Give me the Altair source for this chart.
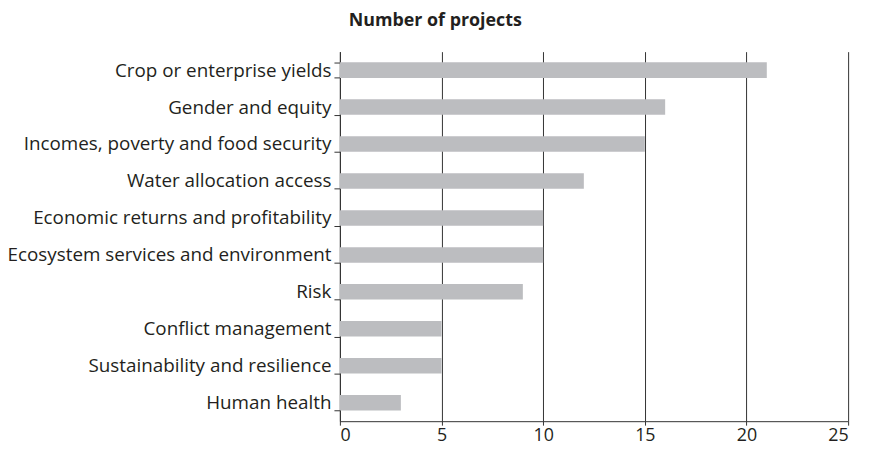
import altair as alt
import pandas as pd

categories = [
    "Crop or enterprise yields",
    "Gender and equity",
    "Incomes, poverty and food security",
    "Water allocation access",
    "Economic returns and profitability",
    "Ecosystem services and environment",
    "Risk",
    "Conflict management",
    "Sustainability and resilience",
    "Human health",
]
values = [21, 16, 15, 12, 10, 10, 9, 5, 5, 3]
x_ticks = [0, 5, 10, 15, 20, 25]

df = pd.DataFrame({"category": categories, "projects": values})

FONT = "Open Sans"
TXT = "#231f20"

chart = (
    alt.Chart(df)
    .mark_bar(color="#bcbdc0")
    .encode(
        x=alt.X(
            "projects:Q",
            scale=alt.Scale(domain=[0, 25], nice=False),
            axis=alt.Axis(
                values=x_ticks,
                title=None,
                grid=True,
                gridColor="#333333",
                gridWidth=1,
                domainColor="#333333",
                tickColor="#333333",
                tickSize=4,
                labelFont=FONT,
                labelFontSize=18,
                labelColor=TXT,
                labelPadding=2,
            ),
        ),
        y=alt.Y(
            "category:N",
            sort=categories,
            scale=alt.Scale(paddingInner=0.58, paddingOuter=0.29),
            axis=alt.Axis(
                title=None,
                tickBand="extent",
                domainColor="#333333",
                tickColor="#333333",
                tickSize=6,
                labelFont=FONT,
                labelFontSize=19,
                labelColor=TXT,
                labelPadding=3,
                labelLimit=400,
            ),
        ),
    )
    .properties(
        width=513,
        height=373,
        title=alt.TitleParams(
            "Number of projects",
            anchor="start",
            frame="group",
            font=FONT,
            fontSize=18,
            fontWeight="bold",
            color=TXT,
            dx=9,
            offset=13,
        ),
        padding={"left": 335, "top": 42, "right": 13, "bottom": 24},
        autosize=alt.AutoSizeParams(type="none"),
    )
    .configure_view(stroke=None)
    .configure_axisX(gridOpacity=1)
)

chart.save("out.html", embed_options={"renderer": "svg", "actions": False})
